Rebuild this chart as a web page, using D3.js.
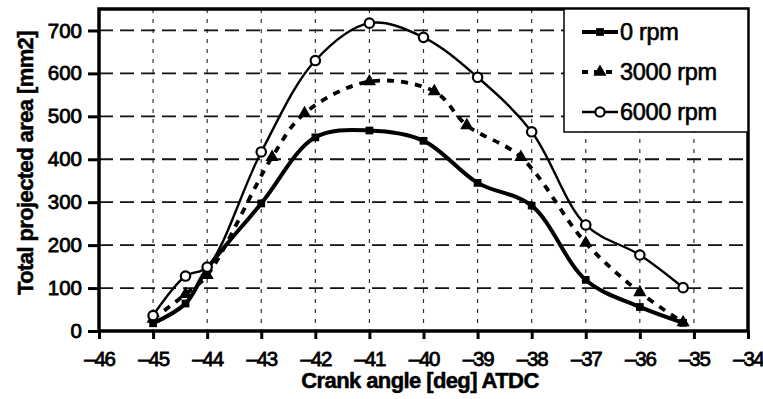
<!DOCTYPE html>
<html>
<head>
<meta charset="utf-8">
<script src="https://cdn.jsdelivr.net/npm/d3@7"></script>
<style>
  html, body { margin: 0; padding: 0; background: #fff; }
  svg { display: block; font-family: "Liberation Sans", Arial, sans-serif; }
</style>
</head>
<body>
<svg id="chart" width="763" height="399"></svg>
<script>
// ---- data ----
const xTicks = [-46, -45, -44, -43, -42, -41, -40, -39, -38, -37, -36, -35, -34];
const yTicks = [0, 100, 200, 300, 400, 500, 600, 700];

const angles0 = [-45, -44.4, -44, -43, -42, -41, -40, -39, -38, -37, -36, -35.2];
const rpm0 = [18, 64, 145, 297, 451, 467, 443, 345, 292, 119, 56, 19];

const angles3000 = [-45, -44.4, -44, -42.8, -42.2, -41, -39.8, -39.2, -38.2, -37, -36, -35.2];
const rpm3000 = [28, 86, 130, 405, 507, 581, 558, 479, 405, 205, 90, 20];

const angles6000 = [-45, -44.4, -44, -43, -42, -41, -40, -39, -38, -37, -36, -35.2];
const rpm6000 = [36, 128, 149, 417, 630, 717, 684, 591, 464, 247, 177, 101];

const seriesNames = ["0 rpm", "3000 rpm", "6000 rpm"];
const xTitle = "Crank angle [deg] ATDC";
const yTitle = "Total projected area [mm2]";

// ---- layout ----
const svg = d3.select("#chart");
const L = 99, R = 748, T = 9, B = 331;
const x = d3.scaleLinear().domain([-46, -34]).range([L, R]);
const y = d3.scaleLinear().domain([0, 750]).range([B, T]);

// vertical gridlines (dotted)
svg.append("g").selectAll("line")
  .data(xTicks.filter(d => d > -46 && d < -34))
  .join("line")
  .attr("x1", d => x(d)).attr("x2", d => x(d))
  .attr("y1", T).attr("y2", B)
  .attr("stroke", "#333").attr("stroke-width", 1.2)
  .attr("stroke-dasharray", "4,6");

// horizontal gridlines (dashed)
svg.append("g").selectAll("line")
  .data(yTicks.filter(d => d > 0))
  .join("line")
  .attr("x1", L).attr("x2", R)
  .attr("y1", d => y(d)).attr("y2", d => y(d))
  .attr("stroke", "#111").attr("stroke-width", 1.8)
  .attr("stroke-dasharray", "14,7");

// axes
const yAxis = svg.append("g").attr("transform", `translate(${L},0)`)
  .call(d3.axisLeft(y).tickValues(yTicks).tickSize(11).tickPadding(6).tickFormat(d3.format("d")));
const xAxis = svg.append("g").attr("transform", `translate(0,${B})`)
  .call(d3.axisBottom(x).tickValues(xTicks).tickSize(8).tickPadding(12).tickFormat(d => String(d).replace("-", "\u2013")));

[yAxis, xAxis].forEach(g => {
  g.select(".domain").remove();
  g.selectAll(".tick line").attr("stroke", "#000").attr("stroke-width", 3);
  g.selectAll(".tick text").attr("fill", "#000")
    .attr("font-size", 20.5).attr("stroke", "#000").attr("stroke-width", 0.8)
    .attr("font-family", "Liberation Sans, Arial, sans-serif");
});
xAxis.selectAll(".tick text").attr("letter-spacing", -1.2);

// plot frame
svg.append("rect").attr("x", L).attr("y", T).attr("width", R - L).attr("height", B - T)
  .attr("fill", "none").attr("stroke", "#000").attr("stroke-width", 3.5);

// series
const curve = d3.curveCatmullRom.alpha(0.5);
const line = d3.line().x(d => x(d[0])).y(d => y(d[1])).curve(curve);

const s0 = d3.zip(angles0, rpm0);
const s3 = d3.zip(angles3000, rpm3000);
const s6 = d3.zip(angles6000, rpm6000);

svg.append("path").datum(s6).attr("d", line)
  .attr("fill", "none").attr("stroke", "#000").attr("stroke-width", 2.4);
svg.append("path").datum(s3).attr("d", line)
  .attr("fill", "none").attr("stroke", "#000").attr("stroke-width", 3.8)
  .attr("stroke-dasharray", "7,7");
svg.append("path").datum(s0).attr("d", line)
  .attr("fill", "none").attr("stroke", "#000").attr("stroke-width", 4);

const sq = d3.symbol().type(d3.symbolSquare).size(60);
const tri = d3.symbol().type(d3.symbolTriangle).size(75);
const circ = d3.symbol().type(d3.symbolCircle).size(70);

svg.append("g").selectAll("path").data(s0).join("path")
  .attr("d", sq).attr("transform", d => `translate(${x(d[0])},${y(d[1])})`).attr("fill", "#000");
svg.append("g").selectAll("path").data(s3).join("path")
  .attr("d", tri).attr("transform", d => `translate(${x(d[0])},${y(d[1])})`).attr("fill", "#000");
svg.append("g").selectAll("path").data(s6).join("path")
  .attr("d", circ).attr("transform", d => `translate(${x(d[0])},${y(d[1])})`)
  .attr("fill", "#fff").attr("stroke", "#000").attr("stroke-width", 2.2);

// legend
const lg = svg.append("g");
lg.append("rect").attr("x", 564).attr("y", T).attr("width", R - 564).attr("height", 123)
  .attr("fill", "#fff").attr("stroke", "#000").attr("stroke-width", 1.5);
const legendRows = [
  { name: seriesNames[0], w: 4, dash: null, sym: sq, fill: "#000" },
  { name: seriesNames[1], w: 3.8, dash: "6,6", sym: tri, fill: "#000" },
  { name: seriesNames[2], w: 2.4, dash: null, sym: circ, fill: "#fff" }
];
legendRows.forEach((r, i) => {
  const cy = 32 + i * 40;
  lg.append("line").attr("x1", 582).attr("x2", 618).attr("y1", cy).attr("y2", cy)
    .attr("stroke", "#000").attr("stroke-width", r.w)
    .attr("stroke-dasharray", r.dash);
  lg.append("path").attr("d", r.sym).attr("transform", `translate(600,${cy})`)
    .attr("fill", r.fill).attr("stroke", "#000").attr("stroke-width", r.fill === "#fff" ? 2.2 : 0);
  lg.append("text").attr("x", 620).attr("y", cy).attr("dy", "0.35em")
    .attr("font-size", 23.5).attr("fill", "#000").attr("stroke", "#000").attr("stroke-width", 0.6)
    .attr("letter-spacing", -0.3)
    .text(r.name);
});

// axis titles
svg.append("text").attr("x", 420).attr("y", 380).attr("dy", "0.35em")
  .attr("text-anchor", "middle").attr("font-size", 22).attr("font-weight", "bold")
  .attr("stroke", "#000").attr("stroke-width", 0.5)
  .attr("letter-spacing", -0.6).text(xTitle);
svg.append("text").attr("transform", "translate(25,163) rotate(-90)").attr("dy", "0.35em")
  .attr("text-anchor", "middle").attr("font-size", 22).attr("font-weight", "bold")
  .attr("stroke", "#000").attr("stroke-width", 0.5)
  .attr("letter-spacing", -0.6).text(yTitle);
</script>
</body>
</html>
